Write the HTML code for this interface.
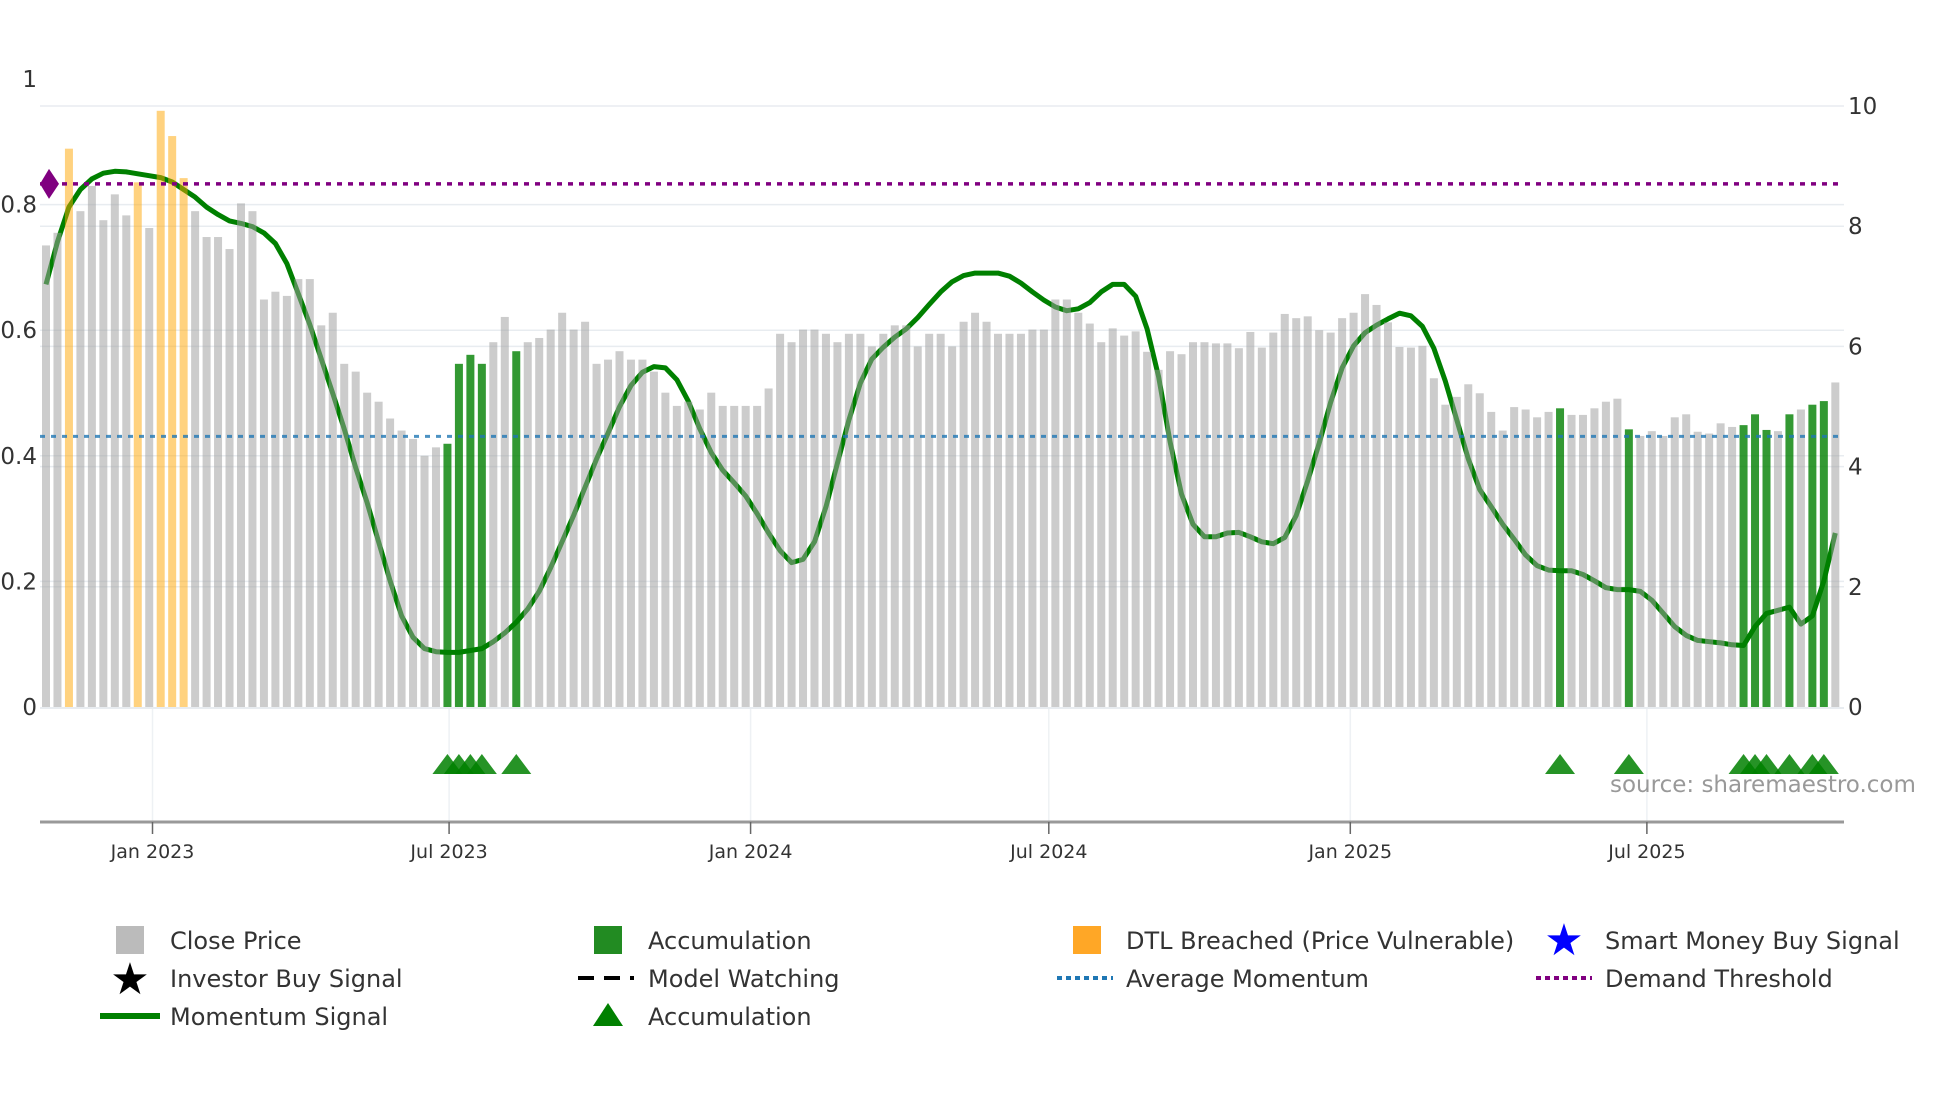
<!DOCTYPE html>
<html><head><meta charset="utf-8"><style>
html,body{margin:0;padding:0;background:#fff;}
svg{display:block;font-family:"DejaVu Sans","Liberation Sans",sans-serif;}
</style></head><body>
<svg id="chart" width="1960" height="1102" viewBox="0 0 1960 1102" xmlns="http://www.w3.org/2000/svg">
<g id="grid"></g>
<g id="vgrid"></g>
<g id="line"></g>
<g id="bars"></g>
<g id="refs"></g>
<g id="tris"></g>
<g id="axes"></g>
<text x="1610" y="792" font-size="23" fill="#999">source: sharemaestro.com</text>
<g id="legend" font-size="24" fill="#333">
  <g><rect x="116" y="926" width="28" height="28" fill="#bbb"/><text x="170" y="949">Close Price</text></g>
  <g><rect x="594" y="926" width="28" height="28" fill="#228b22"/><text x="648" y="949">Accumulation</text></g>
  <g><rect x="1073" y="926" width="28" height="28" fill="#ffa726"/><text x="1126" y="949">DTL Breached (Price Vulnerable)</text></g>
  <g><text x="1564" y="955" font-size="44" fill="#0000ff" text-anchor="middle">★</text><text x="1605" y="949">Smart Money Buy Signal</text></g>
  <g><text x="130" y="994" font-size="44" fill="#000" text-anchor="middle">★</text><text x="170" y="987">Investor Buy Signal</text></g>
  <g><line x1="578" y1="978" x2="634" y2="978" stroke="#000" stroke-width="4" stroke-dasharray="16,10"/><text x="648" y="987">Model Watching</text></g>
  <g><line x1="1057" y1="978" x2="1113" y2="978" stroke="#1f77b4" stroke-width="4" stroke-dasharray="5,4"/><text x="1126" y="987">Average Momentum</text></g>
  <g><line x1="1536" y1="978" x2="1592" y2="978" stroke="#800080" stroke-width="4" stroke-dasharray="5,4"/><text x="1605" y="987">Demand Threshold</text></g>
  <g><line x1="100" y1="1016" x2="160" y2="1016" stroke="#008000" stroke-width="6"/><text x="170" y="1025">Momentum Signal</text></g>
  <g><polygon points="608,1003 623,1026 593,1026" fill="#008000"/><text x="648" y="1025">Accumulation</text></g>
</g>
</svg>
<script>
const prices = [7.68,7.89,9.29,8.25,8.67,8.10,8.53,8.18,8.73,7.97,
9.92,9.50,8.80,8.25,7.82,7.82,7.62,8.38,8.25,6.78,
6.91,6.84,7.12,7.12,6.35,6.56,5.71,5.58,5.23,5.08,
4.80,4.60,4.46,4.18,4.32,4.38,5.71,5.86,5.71,6.07,
6.49,5.92,6.07,6.14,6.28,6.56,6.28,6.41,5.71,5.78,
5.92,5.78,5.78,5.58,5.23,5.01,5.08,4.95,5.23,5.01,
5.01,5.01,5.01,5.30,6.21,6.07,6.28,6.28,6.21,6.07,
6.21,6.21,6.00,6.21,6.35,6.35,6.00,6.21,6.21,6.00,
6.41,6.56,6.41,6.21,6.21,6.21,6.28,6.28,6.78,6.78,
6.56,6.38,6.07,6.30,6.18,6.25,5.91,5.61,5.92,5.87,
6.07,6.07,6.05,6.05,5.97,6.24,5.98,6.23,6.54,6.47,
6.50,6.27,6.23,6.47,6.56,6.87,6.69,6.40,5.99,5.98,
6.01,5.47,5.03,5.16,5.37,5.22,4.91,4.60,4.99,4.95,
4.82,4.91,4.97,4.86,4.86,4.97,5.08,5.13,4.62,4.51,
4.59,4.51,4.82,4.87,4.58,4.55,4.72,4.66,4.69,4.87,
4.61,4.59,4.87,4.95,5.03,5.09,5.40];
const momentum = [0.673,0.741,0.796,0.824,0.841,0.850,0.853,0.852,0.849,0.846,
0.843,0.836,0.824,0.812,0.796,0.784,0.774,0.770,0.765,0.755,
0.738,0.706,0.658,0.609,0.554,0.499,0.443,0.381,0.325,0.263,
0.201,0.145,0.111,0.093,0.088,0.087,0.087,0.090,0.093,0.104,
0.118,0.135,0.156,0.184,0.222,0.263,0.305,0.350,0.395,0.436,
0.478,0.512,0.533,0.542,0.540,0.521,0.487,0.443,0.405,0.377,
0.357,0.336,0.308,0.277,0.249,0.230,0.235,0.263,0.319,0.388,
0.457,0.516,0.554,0.573,0.589,0.602,0.620,0.641,0.661,0.677,
0.687,0.691,0.691,0.691,0.686,0.675,0.661,0.648,0.637,0.631,
0.634,0.644,0.661,0.673,0.673,0.654,0.602,0.526,0.422,0.339,
0.291,0.271,0.271,0.277,0.278,0.271,0.263,0.260,0.270,0.305,
0.360,0.420,0.485,0.540,0.575,0.596,0.608,0.618,0.627,0.623,
0.606,0.571,0.519,0.457,0.395,0.346,0.319,0.291,0.267,0.242,
0.225,0.218,0.217,0.217,0.211,0.201,0.190,0.187,0.187,0.184,
0.170,0.149,0.128,0.114,0.106,0.104,0.102,0.099,0.098,0.128,
0.149,0.154,0.159,0.132,0.145,0.201,0.277];
const dtlIdx = [2,8,10,11,12];
const accumIdx = [35,36,37,38,41,132,138,148,149,150,152,154,155];
const avgMomentum = 0.431;
const demandThreshold = 0.833;
const leftTicks = [0,0.2,0.4,0.6,0.8,1];
const leftTickLabels = ["0","0.2","0.4","0.6","0.8","1"];
const rightTicks = [0,2,4,6,8,10];
const dateTicks = ["2023-01-01","2023-07-01","2024-01-01","2024-07-01","2025-01-01","2025-07-01"];
const dateTickLabels = ["Jan 2023","Jul 2023","Jan 2024","Jul 2024","Jan 2025","Jul 2025"];
const startDate = "2022-10-28";

const NS="http://www.w3.org/2000/svg";
const X0=46, STEP=11.47, Y0=707;
const DAY=86400000, t0=Date.parse(startDate);
function xi(i){return X0+i*STEP;}
function xd(d){return X0+(Date.parse(d)-t0)/DAY/7*STEP;}
function yl(v){return Y0-628*v;}
function yr(v){return Y0-60.1*v;}
function mk(tag,attrs,parent){const e=document.createElementNS(NS,tag);for(const k in attrs)e.setAttribute(k,attrs[k]);parent.appendChild(e);return e;}
const G=id=>document.getElementById(id);

leftTicks.forEach((t,k)=>{ if(t>0&&t<1){const g=mk('line',{x1:40,x2:1844,y1:yl(t),y2:yl(t),stroke:'#e8ecf0','stroke-width':1.5},G('grid'));

}});
rightTicks.forEach(t=>{ if(t>0){const g=mk('line',{x1:40,x2:1844,y1:yr(t),y2:yr(t),stroke:'#e8ecf0','stroke-width':1.5},G('grid'));

}});
mk('line',{x1:40,x2:1844,y1:Y0+1,y2:Y0+1,stroke:'#e8ecf0','stroke-width':2},G('grid'));
dateTicks.forEach(d=>{const g=mk('line',{x1:xd(d),x2:xd(d),y1:Y0+2,y2:822,stroke:'#eef1f4','stroke-width':1.5},G('vgrid'));

});

let dstr=momentum.map((v,i)=>(i?'L':'M')+xi(i).toFixed(1)+','+yl(v).toFixed(1)).join(' ');
const ln=mk('path',{d:dstr,fill:'none',stroke:'#008000','stroke-width':5,'stroke-linejoin':'round'},G('line'));



prices.forEach((p,i)=>{
  let fill='#9e9e9e',op=0.53,name='close-price-bar';
  if(dtlIdx.includes(i)){fill='#ffa500';op=0.5;name='dtl-breached-bar';}
  if(accumIdx.includes(i)){fill='#008000';op=0.8;name='accumulation-bar';}
  const r=mk('rect',{x:xi(i)-4,y:yr(p),width:8,height:Y0-yr(p),fill:fill,'fill-opacity':op},G('bars'));
  
  
});

const dl=mk('line',{x1:40,x2:1844,y1:yl(demandThreshold),y2:yl(demandThreshold),stroke:'#800080','stroke-width':3.5,'stroke-dasharray':'5,6'},G('refs'));


const al=mk('line',{x1:40,x2:1844,y1:yl(avgMomentum),y2:yl(avgMomentum),stroke:'#1f77b4','stroke-width':3,'stroke-dasharray':'5,6','stroke-opacity':0.8},G('refs'));


const yd=yl(demandThreshold);
const dm=mk('polygon',{points:`40,${yd} 49,${yd-15} 59,${yd} 49,${yd+15}`,fill:'#800080'},G('refs'));



accumIdx.forEach(i=>{const x=xi(i);
  const t=mk('polygon',{points:`${x},754 ${x+15},774 ${x-15},774`,fill:'#008000','fill-opacity':0.85},G('tris'));
  
  });

const ax=G('axes');
mk('line',{x1:40,x2:1844,y1:822,y2:822,stroke:'#999','stroke-width':3},ax);
leftTicks.forEach((t,k)=>{const tx=mk('text',{x:37,y:yl(t)+8,'text-anchor':'end','font-size':23,fill:'#333'},ax);tx.textContent=leftTickLabels[k];

});
rightTicks.forEach(t=>{const tx=mk('text',{x:1848,y:yr(t)+8,'font-size':23,fill:'#333'},ax);tx.textContent=String(t);

});
dateTicks.forEach((d,k)=>{const x=xd(d);
  mk('line',{x1:x,x2:x,y1:822,y2:834,stroke:'#666','stroke-width':1.5},ax);
  const tx=mk('text',{x:x,y:858,'text-anchor':'middle','font-size':19,fill:'#333'},ax);tx.textContent=dateTickLabels[k];
  
  });
</script>
</body></html>
